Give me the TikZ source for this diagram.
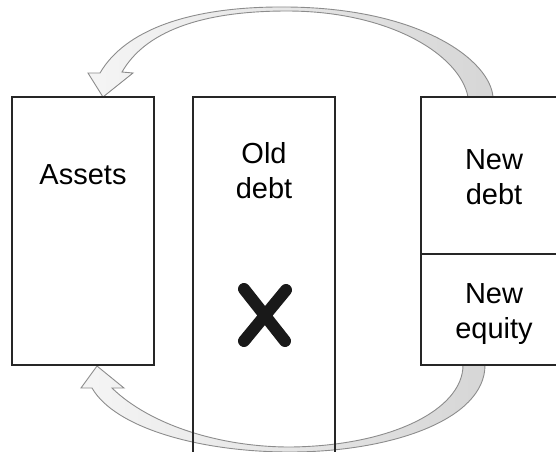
\documentclass[tikz,border=0pt]{standalone}
\usepackage{fontspec}
\setmainfont{Liberation Sans}

\begin{document}
\begin{tikzpicture}[x=1pt,y=-1pt,
	box/.style={draw=black!85,line width=1.5pt,minimum width=142pt,inner sep=0pt,outer sep=0pt,anchor=north west},
	lbl/.style={align=center,inner sep=0pt,anchor=north,font=\fontsize{29}{35}\selectfont},
	fat/.style={draw=black!45,line width=0.9pt,left color=black!4,right color=black!16}]

	\useasboundingbox (0,0) rectangle (556,451);

	% the two fat arrows first, the boxes go over them
	\path[fat] (493,97) .. controls (490,60) and (420,8) .. (287,7)
		.. controls (190,6) and (125,30) .. (100,73) -- (88,73) -- (103,97) -- (133,73) -- (122,72)
		.. controls (145,32) and (200,11) .. (287,11)
		.. controls (390,11) and (460,55) .. (468,97) -- cycle;

	\path[fat] (485,365) .. controls (485,420) and (390,452) .. (290,452)
		.. controls (200,452) and (115,428) .. (92,388) -- (81,388) -- (97,366) -- (124,388) -- (112,388)
		.. controls (150,425) and (220,447) .. (290,447)
		.. controls (390,446) and (463,410) .. (463,365) -- cycle;

	\node[box,minimum height=268pt] (assets) at (12,97) {};
	\node[box,minimum height=400pt] (old) at (193,97) {};
	\node[box,minimum width=146pt,minimum height=157pt] (newd) at (421,97) {};
	\node[box,minimum width=146pt,minimum height=111pt] (newe) at (newd.south west) {};

	\node[lbl] (assetstxt) at (83,164) {Assets};
	\node[lbl] (oldtxt) at (264,142) {Old\\debt};
	\node[lbl] (newdtxt) at (494,149) {New\\debt};
	\node[lbl] (newetxt) at (494,283) {New\\equity};

	% cross over the old debt
	\draw[line width=12pt,line cap=round,black!90] (244,289) -- (285,341) (286,290) -- (244,341);

\end{tikzpicture}
\end{document}
